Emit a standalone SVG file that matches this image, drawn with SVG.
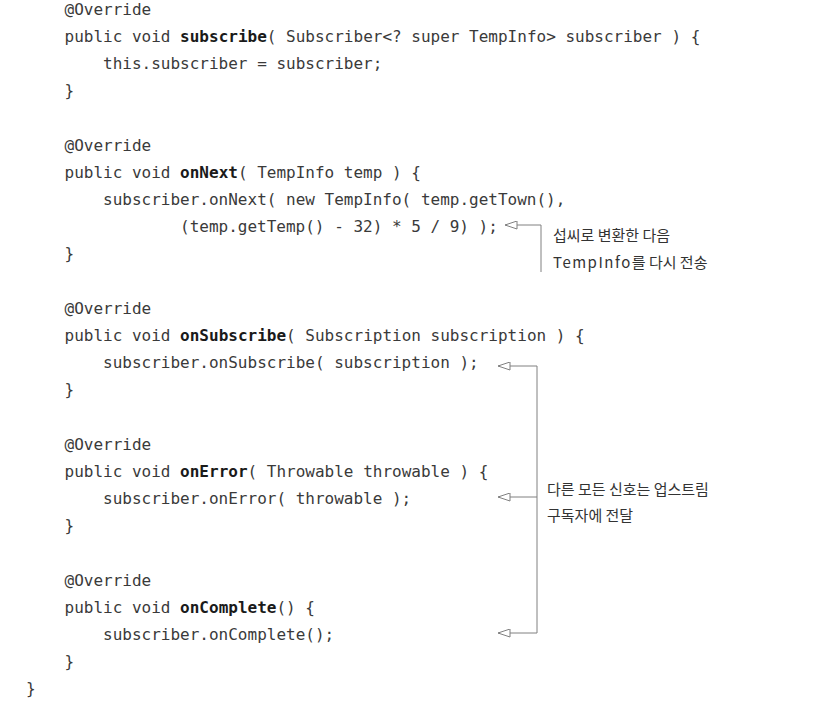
<svg xmlns="http://www.w3.org/2000/svg" width="817" height="714" viewBox="0 0 817 714">
<style>
.code{font-family:"DejaVu Sans Mono","Liberation Mono",monospace;font-size:16px;fill:#3a3a3a;}
.b{font-weight:bold;fill:#1a1a1a;}
.note{font-family:"Noto Sans CJK KR","Noto Sans",sans-serif;font-size:15px;fill:#333;}
.conn{fill:none;stroke:#808080;stroke-width:1;}
</style>
<defs>
<marker id="arr" viewBox="0 0 13 9" refX="12.5" refY="4.5" markerWidth="13" markerHeight="9" markerUnits="userSpaceOnUse" orient="auto">
<path d="M0.5,0.5 L12.5,4.5 L0.5,8.5 Z" fill="#fff" stroke="#808080" stroke-width="1"/>
</marker>
</defs>
<rect width="817" height="714" fill="#fff"/>
<g id="subscribe" class="code">
<text x="64.5" y="15">@Override</text>
<text x="64.5" y="42">public void <tspan class="b">subscribe</tspan>( Subscriber&lt;? super TempInfo&gt; subscriber ) {</text>
<text x="103" y="69">this.subscriber = subscriber;</text>
<text x="64.5" y="96">}</text>
</g>
<g id="onNext" class="code">
<text x="64.5" y="151">@Override</text>
<text x="64.5" y="178">public void <tspan class="b">onNext</tspan>( TempInfo temp ) {</text>
<text x="103" y="205">subscriber.onNext( new TempInfo( temp.getTown(),</text>
<text x="180" y="232">(temp.getTemp() - 32) * 5 / 9) );</text>
<text x="64.5" y="259">}</text>
</g>
<g id="onSubscribe" class="code">
<text x="64.5" y="314">@Override</text>
<text x="64.5" y="341">public void <tspan class="b">onSubscribe</tspan>( Subscription subscription ) {</text>
<text x="103" y="368">subscriber.onSubscribe( subscription );</text>
<text x="64.5" y="395">}</text>
</g>
<g id="onError" class="code">
<text x="64.5" y="450">@Override</text>
<text x="64.5" y="477">public void <tspan class="b">onError</tspan>( Throwable throwable ) {</text>
<text x="103" y="504">subscriber.onError( throwable );</text>
<text x="64.5" y="531">}</text>
</g>
<g id="onComplete" class="code">
<text x="64.5" y="586">@Override</text>
<text x="64.5" y="613">public void <tspan class="b">onComplete</tspan>() {</text>
<text x="103" y="640">subscriber.onComplete();</text>
<text x="64.5" y="667">}</text>
</g>
<g id="classEnd" class="code">
<text x="26" y="694">}</text>
</g>
<g id="connectors">
<path class="conn" d="M541,272 V225 H505" marker-end="url(#arr)"/>
<path class="conn" d="M537,633 V366 H498" marker-end="url(#arr)"/>
<path class="conn" d="M537,497 H498" marker-end="url(#arr)"/>
<path class="conn" d="M537,633 H498" marker-end="url(#arr)"/>
</g>
<g id="note-celsius" class="note">
<text x="553" y="241">섭씨로 변환한 다음</text>
<text x="553" y="268"><tspan letter-spacing="1.5">TempInfo</tspan>를 다시 전송</text>
</g>
<g id="note-forward" class="note">
<text x="547" y="495">다른 모든 신호는 업스트림</text>
<text x="547" y="521">구독자에 전달</text>
</g>
</svg>
